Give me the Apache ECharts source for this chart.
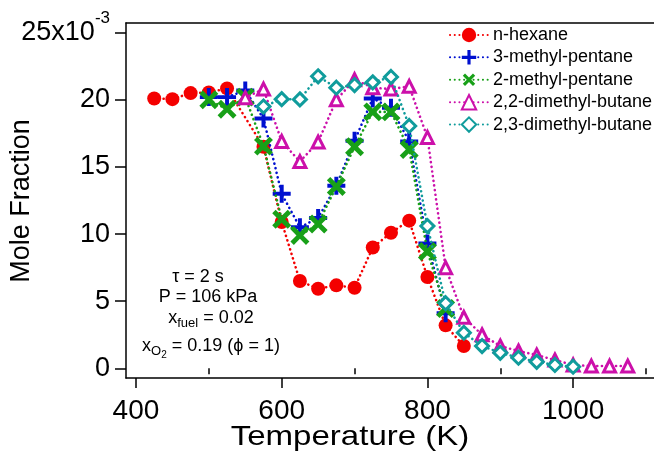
<!DOCTYPE html>
<html>
<head>
<meta charset="utf-8">
<script src="https://cdn.jsdelivr.net/npm/echarts@6/dist/echarts.min.js"></script>
<style>html,body{margin:0;padding:0;background:#fff}#c{width:654px;height:462px}</style>
</head>
<body>
<div id="c"></div>
<script>
// Temperature (K) and mole fraction (x10^-3)
var hexT = [425,450,475,500,525,575,600,625,650,675,700,725,750,775,800,825,850];
var hexV = [20.1,20.05,20.5,20.55,20.85,16.5,10.9,6.5,5.93,6.18,6.0,9.0,10.1,11.0,6.8,3.2,1.66];
var mp3T = [500,525,550,575,600,625,650,675,700,725,750,775,800,825];
var mp3V = [20.2,20.2,20.7,18.6,13.0,10.5,11.2,13.6,16.95,20.1,19.4,16.9,9.3,4.1];
var mp2T = [500,525,550,575,600,625,650,675,700,725,750,775,800,825];
var mp2V = [20.0,19.3,20.2,16.55,11.1,9.9,10.75,13.55,16.5,19.1,19.1,16.3,8.7,4.45];
var d22T = [550,575,600,625,650,675,700,725,750,775,800,825,850,875,900,925,950,975,1000,1025,1050,1075];
var d22V = [20.15,20.8,16.9,15.4,16.85,20.0,21.5,20.9,20.8,21.0,17.2,7.5,3.8,2.5,1.66,1.29,0.99,0.62,0.25,0.17,0.17,0.17];
var d23T = [575,600,625,650,675,700,725,750,775,800,825,850,875,900,925,950,975,1000];
var d23V = [19.5,20.05,20.03,21.75,20.9,21.1,21.3,21.7,18.05,10.6,4.85,2.65,1.66,1.16,0.79,0.49,0.25,0.12];
var seriesNames = ['n-hexane','3-methyl-pentane','2-methyl-pentane','2,2-dimethyl-butane','2,3-dimethyl-butane'];
var xMajorTicks = [400,600,800,1000];
var xMinorTicks = [500,700,900,1100];
var yTicks = [0,5,10,15,20,25];

function pairs(t, v){ return t.map(function(x,i){ return [x, v[i]]; }); }
var FONT = 'Liberation Sans, Arial, sans-serif';
var colors = ['#f40000','#0010d0','#18a018','#cc10aa','#109c9c'];
var plus = 'path://M-1.1,-5H1.1V-1.1H5V1.1H1.1V5H-1.1V1.1H-5V-1.1H-1.1Z';

function mkSeries(i, data, symbol, size, hollow, rot){
  return {
    name: seriesNames[i], type: 'line', data: data,
    symbol: symbol, symbolSize: size, symbolRotate: rot || 0,
    showSymbol: true,
    lineStyle: {color: colors[i], width: 2.6, type: [0.1, 4.6], cap: 'round'},
    itemStyle: hollow ? {color: '#fff', borderColor: colors[i], borderWidth: 3} : {color: colors[i], borderWidth: 0},
    emphasis: {disabled: true},
    animation: false, z: 2 + i
  };
}

var chart = echarts.init(document.getElementById('c'), null, {renderer: 'canvas'});
chart.setOption({
  animation: false,
  grid: {left: 126, right: 0, top: 23, bottom: 84, containLabel: false},
  legend: {
    orient: 'vertical', left: 444, top: 20, itemWidth: 38, itemHeight: 18, itemGap: 2.3,
    data: seriesNames,
    textStyle: {fontFamily: FONT, fontSize: 18, color: '#000', lineHeight: 20}
  },
  xAxis: [{
    type: 'value', min: 386.3, max: 1111, position: 'bottom',
    axisLine: {show: true, onZero: false, lineStyle: {color: '#000', width: 1.5}},
    axisTick: {show: true, customValues: xMajorTicks, length: 10, lineStyle: {color: '#000', width: 1.5}},
    axisLabel: {customValues: xMajorTicks, margin: 19, fontFamily: FONT, fontSize: 28, color: '#000',
      formatter: function(v){ return String(v); }},
    splitLine: {show: false}
  },{
    type: 'value', min: 386.3, max: 1111, position: 'bottom',
    axisLine: {show: false},
    axisTick: {show: true, customValues: xMinorTicks, length: 6, lineStyle: {color: '#000', width: 1.5}},
    axisLabel: {show: false},
    splitLine: {show: false}
  },{
    type: 'value', min: 386.3, max: 1111, position: 'top',
    axisLine: {show: true, onZero: false, lineStyle: {color: '#000', width: 1.5}},
    axisTick: {show: false}, axisLabel: {show: false}, splitLine: {show: false}
  }],
  yAxis: {
    type: 'value', min: -0.72, max: 25.72,
    axisLine: {show: true, onZero: false, lineStyle: {color: '#000', width: 1.5}},
    axisTick: {show: true, customValues: yTicks, length: 11, lineStyle: {color: '#000', width: 1.5}},
    axisLabel: {
      customValues: yTicks, margin: 16,
      formatter: function(v){ return v === 25 ? '{n|25x10}{s|-3}' : '{n|' + v + '}'; },
      rich: {
        n: {fontFamily: FONT, fontSize: 27, color: '#000'},
        s: {fontFamily: FONT, fontSize: 17, color: '#000', padding: [0,0,28,0]}
      }
    },
    splitLine: {show: false}
  },
  series: [
    mkSeries(0, pairs(hexT, hexV), 'circle', 14, false),
    mkSeries(1, pairs(mp3T, mp3V), plus, 18, false),
    mkSeries(2, pairs(mp2T, mp2V), plus, 22, false, 45),
    mkSeries(3, pairs(d22T, d22V), 'triangle', 12, true),
    mkSeries(4, pairs(d23T, d23V), 'diamond', 13, true)
  ],
  graphic: [
    {type: 'text', x: 22, y: 201, rotation: Math.PI/2,
      style: {text: 'Mole Fraction', fontFamily: FONT, fontSize: 27, fill: '#000', align: 'center', verticalAlign: 'middle'}},
    {type: 'text', x: 350, y: 437, scaleX: 1.18,
      style: {text: 'Temperature (K)', fontFamily: FONT, fontSize: 28, fill: '#000', align: 'center', verticalAlign: 'middle'}},
    {type: 'text', x: 198, y: 277,
      style: {text: 'τ = 2 s', fontFamily: FONT, fontSize: 18, fill: '#000', align: 'center', verticalAlign: 'middle'}},
    {type: 'text', x: 208, y: 297,
      style: {text: 'P = 106 kPa', fontFamily: FONT, fontSize: 18, fill: '#000', align: 'center', verticalAlign: 'middle'}},
    {type: 'text', x: 211, y: 318,
      style: {text: '{a|x}{s|fuel}{a| = 0.02}', align: 'center', verticalAlign: 'middle',
        rich: {a: {fontFamily: FONT, fontSize: 18, fill: '#000'}, s: {fontFamily: FONT, fontSize: 13, fill: '#000', padding: [10,0,0,0]}}}},
    {type: 'text', x: 211, y: 346,
      style: {text: '{a|x}{s|O}{t|2}{a| = 0.19 (ϕ = 1)}', align: 'center', verticalAlign: 'middle',
        rich: {a: {fontFamily: FONT, fontSize: 18, fill: '#000'}, s: {fontFamily: FONT, fontSize: 13, fill: '#000', padding: [10,0,0,0]},
               t: {fontFamily: FONT, fontSize: 10, fill: '#000', padding: [18,0,0,0]}}}}
  ]
});
</script>
</body>
</html>
